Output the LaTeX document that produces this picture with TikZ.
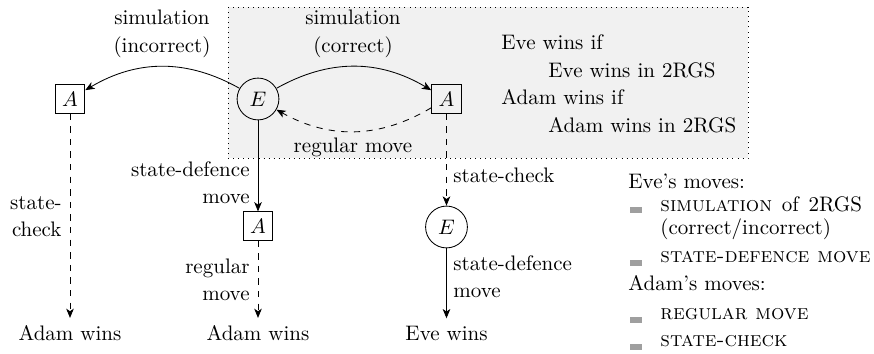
\documentclass[tikz,border=0pt]{standalone}
\usetikzlibrary{arrows.meta}
\begin{document}
\begin{tikzpicture}[x=0.476pt,y=-0.476pt,
  >={Stealth[length=4.4pt,width=3.6pt,inset=1.2pt]},
  enode/.style={draw,circle},
  anode/.style={draw,rectangle},
  txt/.style={inner sep=0pt},
  lbl/.style={inner sep=0pt,align=left},
  lblr/.style={inner sep=0pt,align=right},
  lblc/.style={inner sep=0pt,align=center},
  bul/.style={fill=gray!75,inner sep=0pt,minimum width=5.8pt,minimum height=2.5pt},
  region/.style={fill=gray!11},
  regionb/.style={draw,dotted},
]
\useasboundingbox (0,0) rectangle (874,354);
\fill[region] (228,7) rectangle (748,158);
\draw[regionb] (228,7) rectangle (748,158);

% main nodes
\node[enode] (E1) at (258,99) {$E$};
\node[anode] (A1) at (70,99) {$A$};
\node[anode] (A2) at (446.5,99) {$A$};
\node[anode] (A3) at (258,226) {$A$};
\node[enode] (E2) at (446.5,227) {$E$};
\node (W1) at (70,333) {Adam wins};
\node (W2) at (258,333) {Adam wins};
\node (W3) at (446.5,333) {Eve wins};

% connectors
\draw[->] (E1) to[bend right=30] (A1);
\draw[->] (E1) to[bend left=30] (A2);
\draw[->,dashed] (A2) to[bend left=30] (E1);
\draw[->,dashed] (A1) -- (W1);
\draw[->] (E1) -- (A3);
\draw[->,dashed] (A3) -- (W2);
\draw[->,dashed] (A2) -- (E2);
\draw[->] (E2) -- (W3);

% connector labels
\node[lblc] (l1) at (162,34) {simulation\\[1.3pt](incorrect)};
\node[lblc] (l2) at (353,34) {simulation\\[1.3pt](correct)};
\node[txt] (l3) at (353,147) {regular move};
\node[lblr,anchor=east] (l4) at (250,183) {state-defence\\[1pt]move};
\node[lblr,anchor=east] (l5) at (62,217) {state-\\[1pt]check};
\node[lblr,anchor=east] (l6) at (250,280) {regular\\[1pt]move};
\node[txt,anchor=west] (l7) at (453,175) {state-check};
\node[lbl,anchor=west] (l8) at (453,277) {state-defence\\[1pt]move};

% winning conditions
\node[txt,anchor=west] (c1) at (501,42) {Eve wins if};
\node[txt,anchor=west] (c2) at (548,70) {Eve wins in 2RGS};
\node[txt,anchor=west] (c3) at (501,97) {Adam wins if};
\node[txt,anchor=west] (c4) at (548,125) {Adam wins in 2RGS};

% legend
\node[txt,anchor=west] (g1) at (628,181) {Eve's moves:};
\node[bul] (b1) at (636,210) {};
\node[txt,anchor=west] (g2) at (660,204) {\makebox[96pt][s]{\textsc{simulation} of 2RGS}};
\node[txt,anchor=west] (g3) at (660,229) {(correct/incorrect)};
\node[bul] (b2) at (636,263) {};
\node[txt,anchor=west] (g4) at (660,257) {\textsc{state-defence move}};
\node[txt,anchor=west] (g5) at (628,283) {Adam's moves:};
\node[bul] (b3) at (636,320) {};
\node[txt,anchor=west] (g6) at (660,314) {\textsc{regular move}};
\node[bul] (b4) at (636,347) {};
\node[txt,anchor=west] (g7) at (660,341) {\textsc{state-check}};
\end{tikzpicture}
\end{document}
